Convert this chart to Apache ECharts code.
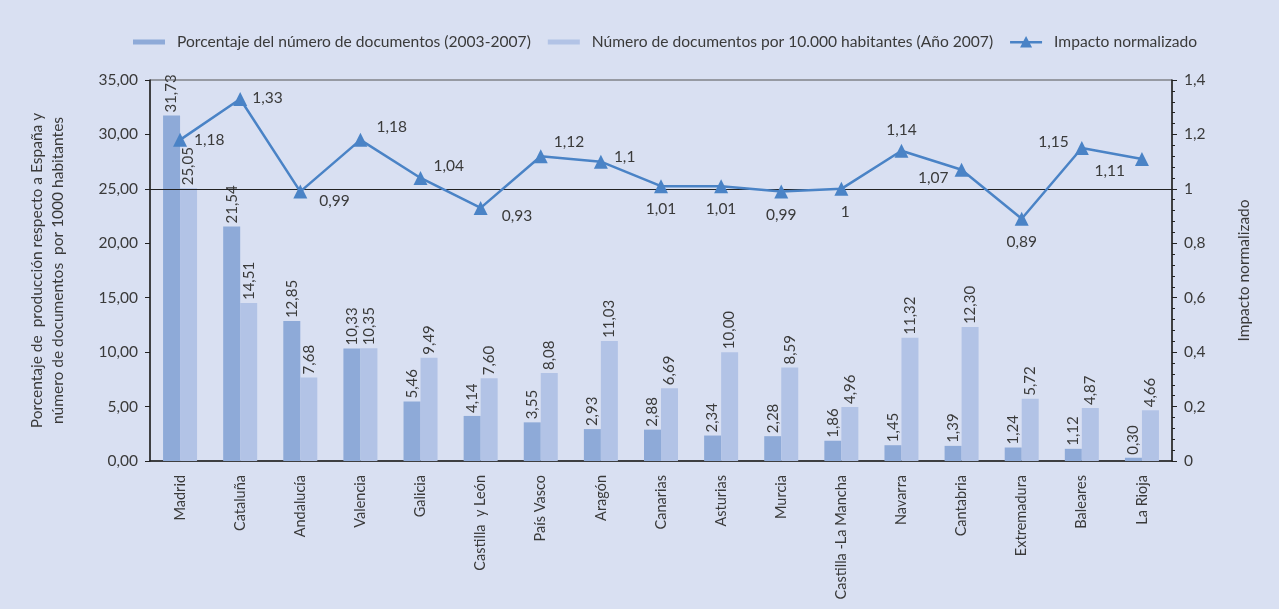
<!DOCTYPE html>
<html><head><meta charset="utf-8">
<script src="https://cdn.jsdelivr.net/npm/echarts@6/dist/echarts.min.js"></script>
<style>html,body{margin:0;padding:0;background:#d9e0f2;}#c{width:1279px;height:609px;}</style>
</head><body><div id="c"></div>
<script>
const categories = ['Madrid','Cataluña','Andalucía','Valencia','Galicia','Castilla  y León','País Vasco','Aragón','Canarias','Asturias','Murcia','Castilla -La Mancha','Navarra','Cantabria','Extremadura','Baleares','La Rioja'];
const porcentaje = [31.73,21.54,12.85,10.33,5.46,4.14,3.55,2.93,2.88,2.34,2.28,1.86,1.45,1.39,1.24,1.12,0.30];
const porHabitante = [25.05,14.51,7.68,10.35,9.49,7.60,8.08,11.03,6.69,10.00,8.59,4.96,11.32,12.30,5.72,4.87,4.66];
const impacto = [1.18,1.33,0.99,1.18,1.04,0.93,1.12,1.1,1.01,1.01,0.99,1,1.14,1.07,0.89,1.15,1.11];
const leftTicks = {min:0, max:35, interval:5};
const rightTicks = {min:0, max:1.4, interval:0.2};

// label placement per point (style only)
const lblPos = ['right','right','right','right','right','right','right','right','bottom','bottom','bottom','bottom','top','left','bottom','left','left'];
const lblOff = [[1,0],[-1,-1],[6,9],[3,-13],[0,-12],[8,8],[0,-14],[0,-5],[0,2],[0,2],[0,2],[4,2],[0,0],[0,8],[0,2],[0,-6],[-4,12]];

const FONT = 'Lato';
const txt = '#3a3a3a';
const comma = v => String(v).replace('.', ',');
const barIcon = 'path://M0,0L0.01,0Z M0,3.5h32v5h-32Z M0,12L0.01,12Z';
const lineIcon = 'path://M0,5h32v2.4h-32Z M16,0L22,11.5L10,11.5Z M0,12L0.01,12Z';

const chart = echarts.init(document.getElementById('c'));
chart.setOption({
  backgroundColor:'#d9e0f2',
  textStyle:{fontFamily:FONT},
  legend:{
    top:29, left:128, itemGap:17, itemWidth:32, itemHeight:12,
    textStyle:{fontFamily:FONT,fontSize:15.6,color:txt,padding:[0,0,0,7]},
    data:[{name:'Porcentaje del número de documentos (2003-2007)',icon:barIcon},
          {name:'Número de documentos por 10.000 habitantes (Año 2007)',icon:barIcon},
          {name:'Impacto normalizado',icon:lineIcon}]
  },
  grid:{left:150,right:107,top:80,bottom:148,show:true,borderColor:'#555',borderWidth:1},
  xAxis:{
    type:'category', data:categories,
    axisLine:{lineStyle:{color:'#222',width:1.5}},
    axisTick:{alignWithLabel:false,length:4,lineStyle:{color:'#222'}},
    axisLabel:{rotate:90,fontFamily:FONT,fontSize:14.5,color:txt,margin:14}
  },
  yAxis:[{
    type:'value', min:leftTicks.min, max:leftTicks.max, interval:leftTicks.interval,
    name:'Porcentaje de  producción respecto a España y\nnúmero de documentos  por 1000 habitantes',
    nameLocation:'middle', nameGap:82, nameRotate:90,
    nameTextStyle:{fontFamily:FONT,fontSize:15.5,color:txt,lineHeight:21},
    axisLine:{show:true,lineStyle:{color:'#222',width:1.5}},
    axisTick:{show:true,length:5,lineStyle:{color:'#222'}},
    axisLabel:{fontFamily:FONT,fontSize:15.5,color:txt,margin:12,formatter:v=>v.toFixed(2).replace('.',',')},
    splitLine:{show:false}
  },{
    type:'value', min:rightTicks.min, max:rightTicks.max, interval:rightTicks.interval, position:'right',
    name:'Impacto normalizado', nameLocation:'middle', nameGap:64, nameRotate:90,
    nameTextStyle:{fontFamily:FONT,fontSize:15.5,color:txt},
    axisLine:{show:true,lineStyle:{color:'#222',width:1.5}},
    axisTick:{show:true,length:5,lineStyle:{color:'#222'}},
    minorTick:{show:true,splitNumber:5,length:3,lineStyle:{color:'#222'}},
    axisLabel:{fontFamily:FONT,fontSize:15.5,color:txt,margin:12,formatter:v=>comma(+v.toFixed(1))},
    splitLine:{show:false}
  }],
  series:[{
    name:'Porcentaje del número de documentos (2003-2007)', type:'bar', data:porcentaje,
    barWidth:17, barGap:'0%', itemStyle:{color:'#8eaad8'},
    label:{show:true,position:'top',rotate:90,align:'left',verticalAlign:'middle',distance:3,
      fontFamily:FONT,fontSize:15,color:txt,formatter:p=>p.value.toFixed(2).replace('.',',')}
  },{
    name:'Número de documentos por 10.000 habitantes (Año 2007)', type:'bar', data:porHabitante,
    barWidth:17, itemStyle:{color:'#b2c3e6'},
    label:{show:true,position:'top',rotate:90,align:'left',verticalAlign:'middle',distance:3,
      fontFamily:FONT,fontSize:15,color:txt,formatter:p=>p.value.toFixed(2).replace('.',',')}
  },{
    name:'Impacto normalizado', type:'line', yAxisIndex:1,
    data:impacto.map((v,i)=>({value:v,label:{position:lblPos[i],offset:lblOff[i]}})),
    symbol:'triangle', symbolSize:14, lineStyle:{color:'#4a83c6',width:2.5}, itemStyle:{color:'#4a83c6'},
    label:{show:true,fontFamily:FONT,fontSize:15.5,color:txt,distance:6,formatter:p=>comma(p.value)},
    markLine:{silent:true,symbol:'none',label:{show:false},lineStyle:{color:'#222',width:1,type:'solid'},data:[{yAxis:1}]},
    z:5
  }]
});
</script></body></html>
